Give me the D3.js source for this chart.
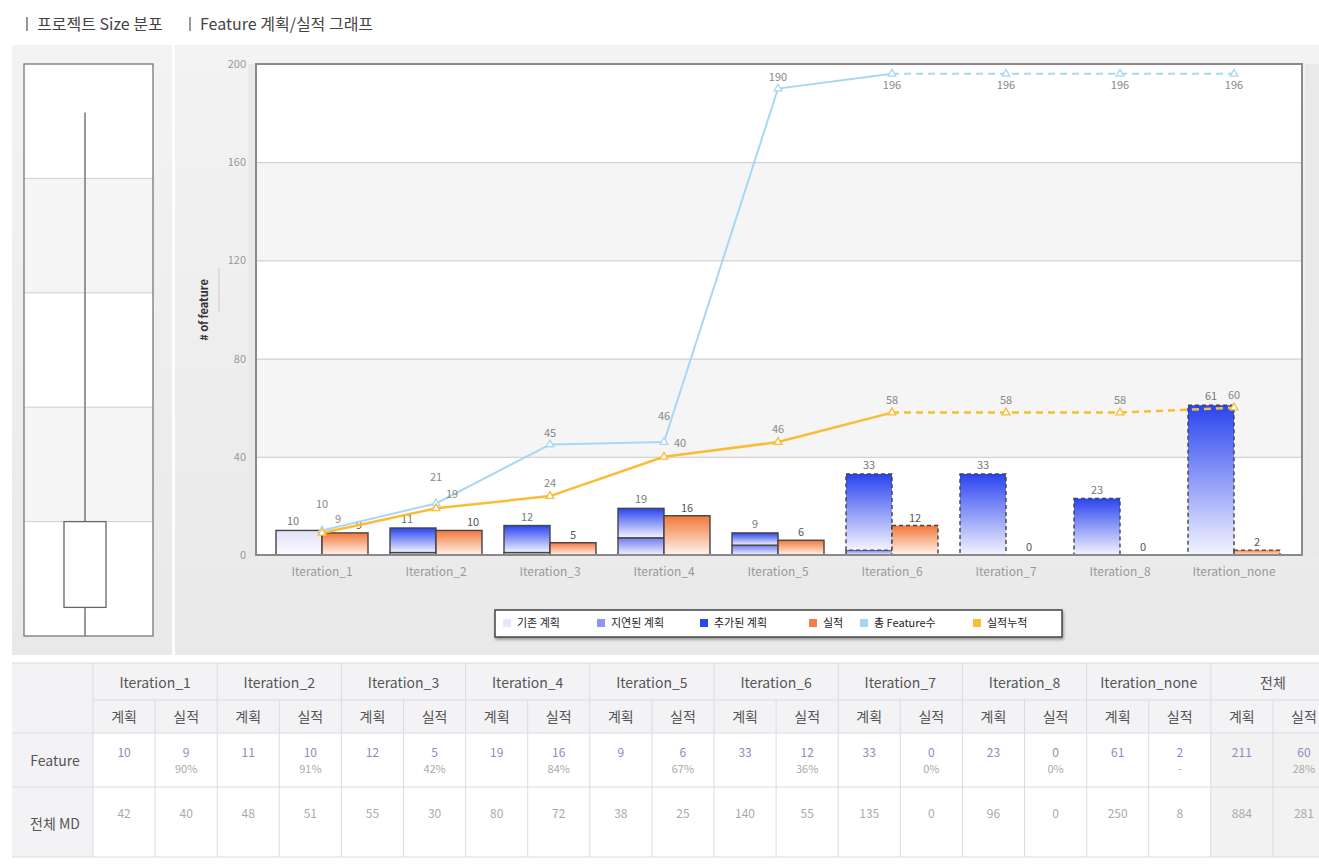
<!DOCTYPE html>
<html><head><meta charset="utf-8">
<script src="https://cdn.jsdelivr.net/npm/d3@7"></script>
<style>
body{margin:0;background:#fff;font-family:"Noto Sans CJK KR","Noto Sans",sans-serif;}
svg{display:block;}
</style></head>
<body>
<svg id="c" width="1319" height="864"></svg>
<script>
// ---------- data ----------
const categories = ["Iteration_1","Iteration_2","Iteration_3","Iteration_4","Iteration_5","Iteration_6","Iteration_7","Iteration_8","Iteration_none"];
const basePlan    = [10, 1, 1, 0, 0, 0, 0, 0, 0];   // 기존 계획
const delayedPlan = [0, 0, 0, 7, 4, 2, 0, 0, 0];    // 지연된 계획
const addedPlan   = [0, 10, 11, 12, 5, 31, 33, 23, 61]; // 추가된 계획
const actual      = [9, 10, 5, 16, 6, 12, 0, 0, 2];  // 실적
const totalFeature = [10, 21, 45, 46, 190, 196, 196, 196, 196]; // 총 Feature수
const cumActual    = [9, 19, 24, 40, 46, 58, 58, 58, 60];       // 실적누적
const futureFrom = 5; // index where dashed (planned) styling starts
const yTicks = [0, 40, 80, 120, 160, 200];

const planTotals = [10, 11, 12, 19, 9, 33, 33, 23, 61];
const actualPct  = ["90%","91%","42%","84%","67%","36%","0%","0%","-"];
const mdPlan   = [42, 48, 55, 80, 38, 140, 135, 96, 250];
const mdActual = [40, 51, 30, 72, 25, 55, 0, 0, 8];
const totalCol = {plan: 211, actual: 60, pct: "28%", mdPlan: 884, mdActual: 281};

const boxTicks = [0, 20, 40, 60, 80, 100];
const boxStats = {min: 0, q1: 5, q3: 20, max: 91.5};

const legendItems = [
  {label:"기존 계획", color:"#e6e6fb"},
  {label:"지연된 계획", color:"#8f95f2"},
  {label:"추가된 계획", color:"#2c46ef"},
  {label:"실적", color:"#f47e45"},
  {label:"총 Feature수", color:"#a9d7f3"},
  {label:"실적누적", color:"#f8bd35"}
];

const svg = d3.select("#c");
const FONT = '"Noto Sans CJK KR","Noto Sans",sans-serif';

// ---------- defs ----------
const defs = svg.append("defs");
function grad(id, top, bottom){
  const g = defs.append("linearGradient").attr("id", id).attr("x1",0).attr("y1",0).attr("x2",0).attr("y2",1);
  g.append("stop").attr("offset","0%").attr("stop-color",top);
  g.append("stop").attr("offset","100%").attr("stop-color",bottom);
}
grad("gBase", "#e2e2fa", "#fbfbff");
grad("gDelayed", "#6f7af0", "#f2f2ff");
grad("gAdded", "#2a44ef", "#f4f4ff");
grad("gActual", "#f2783b", "#fff4ee");
grad("gPanel", "#f3f3f3", "#e9e9e9");
const f = defs.append("filter").attr("id","shadow").attr("x","-5%").attr("y","-20%").attr("width","110%").attr("height","160%");
f.append("feDropShadow").attr("dx",1).attr("dy",2).attr("stdDeviation",1.5).attr("flood-color","#000").attr("flood-opacity",0.35);

// ---------- titles ----------
[{x:26, t:"프로젝트 Size 분포"},{x:189, t:"Feature 계획/실적 그래프"}].forEach(d=>{
  svg.append("rect").attr("x",d.x).attr("y",17).attr("width",2).attr("height",14).attr("fill","#999");
  svg.append("text").attr("x",d.x+11).attr("y",30).attr("font-size",16).attr("fill","#444")
    .attr("font-family",FONT).text(d.t);
});

// ---------- panels ----------
svg.append("rect").attr("x",12).attr("y",45).attr("width",160).attr("height",610).attr("fill","url(#gPanel)");
svg.append("rect").attr("x",175).attr("y",45).attr("width",1144).attr("height",610).attr("fill","url(#gPanel)");

// ---------- box plot ----------
const bx0 = 24, bx1 = 153;
const by = d3.scaleLinear().domain([0,100]).range([636,64]);
for(let i=0;i<boxTicks.length-1;i++){
  svg.append("rect").attr("x",bx0).attr("y",by(boxTicks[i+1])).attr("width",bx1-bx0)
    .attr("height",by(boxTicks[i])-by(boxTicks[i+1])).attr("fill", i%2===1 ? "#f5f5f5" : "#fff");
}
boxTicks.slice(1,-1).forEach(t=>{
  svg.append("line").attr("x1",bx0).attr("x2",bx1).attr("y1",by(t)).attr("y2",by(t)).attr("stroke","#d0d0d0");
});
svg.append("rect").attr("x",bx0).attr("y",64).attr("width",bx1-bx0).attr("height",572)
  .attr("fill","none").attr("stroke","#777").attr("stroke-width",1.3);
const bcx = 85;
svg.append("line").attr("x1",bcx).attr("x2",bcx).attr("y1",by(boxStats.max)).attr("y2",by(boxStats.min))
  .attr("stroke","#777").attr("stroke-width",1.5);
svg.append("rect").attr("x",64).attr("y",by(boxStats.q3)).attr("width",42).attr("height",by(boxStats.q1)-by(boxStats.q3))
  .attr("fill","#fff").attr("stroke","#666").attr("stroke-width",1.3);

// ---------- main chart ----------
const L = 256, R = 1302, T = 64, B = 555;
const y = d3.scaleLinear().domain([0,200]).range([B,T]);
const x = d3.scaleBand().domain(categories).range([265,1291]).paddingInner(0.193).paddingOuter(0.0965);
const bw = x.bandwidth()/2;

// strips
svg.append("rect").attr("x",248).attr("y",T).attr("width",8).attr("height",B-T).attr("fill","#e8e8e8");
svg.append("rect").attr("x",1305).attr("y",T).attr("width",14).attr("height",B-T).attr("fill","#e9e9e9");

for(let i=0;i<yTicks.length-1;i++){
  svg.append("rect").attr("x",L).attr("y",y(yTicks[i+1])).attr("width",R-L)
    .attr("height",y(yTicks[i])-y(yTicks[i+1])).attr("fill", i%2===1 ? "#f5f5f5" : "#fff");
}
const gy = svg.append("g").attr("transform",`translate(${L},0)`)
  .call(d3.axisLeft(y).tickValues(yTicks).tickSize(-(R-L)).tickPadding(10));
gy.select(".domain").remove();
gy.selectAll(".tick line").attr("stroke","#c8c8c8");
gy.selectAll(".tick text").attr("fill","#999").attr("font-size",11).attr("font-family",FONT);

svg.append("text").attr("transform","translate(208,310) rotate(-90)").attr("text-anchor","middle")
  .attr("font-size",11).attr("font-weight","bold").attr("fill","#333").attr("font-family",FONT).text("# of feature");
svg.append("line").attr("x1",219).attr("x2",219).attr("y1",268).attr("y2",312).attr("stroke","#ddd").attr("stroke-width",2);

// bars
const planStacks = categories.map((c,i)=>[
  {k:"base", v:basePlan[i], fill:"url(#gBase)"},
  {k:"delayed", v:delayedPlan[i], fill:"url(#gDelayed)"},
  {k:"added", v:addedPlan[i], fill:"url(#gAdded)"}
]);
const barG = svg.append("g");
const labelG = svg.append("g");
categories.forEach((c,i)=>{
  let acc = 0;
  const dash = i>=futureFrom ? "4,3" : null;
  planStacks[i].forEach(s=>{
    if(s.v<=0) return;
    barG.append("rect").attr("x",x(c)).attr("y",y(acc+s.v)).attr("width",bw).attr("height",y(acc)-y(acc+s.v))
      .attr("fill",s.fill).attr("stroke","#444").attr("stroke-width",1.4).attr("stroke-dasharray",dash);
    acc += s.v;
  });
  if(actual[i]>0){
    barG.append("rect").attr("x",x(c)+bw).attr("y",y(actual[i])).attr("width",bw).attr("height",y(0)-y(actual[i]))
      .attr("fill","url(#gActual)").attr("stroke","#444").attr("stroke-width",1.4).attr("stroke-dasharray",dash);
  }
  const pdx = i<2 ? -6 : 0;
  labelG.append("text").attr("x",x(c)+bw/2+pdx).attr("y",y(planTotals[i])-5).attr("text-anchor","middle")
    .attr("font-size",11).attr("fill","#777").attr("font-family",FONT).text(planTotals[i]);
  labelG.append("text").attr("x",x(c)+bw*1.5+ (i<2?14:0)).attr("y",y(actual[i])-4).attr("text-anchor","middle")
    .attr("font-size",11).attr("fill","#555").attr("font-family",FONT).text(actual[i]);
});

// plot frame
svg.append("rect").attr("x",L).attr("y",T).attr("width",R-L).attr("height",B-T)
  .attr("fill","none").attr("stroke","#8a8a8a").attr("stroke-width",2);

// lines
const px = c => x(c)+bw;
function drawLine(vals, color, w, labelPos){
  const pts = categories.map((c,i)=>[px(c), y(vals[i])]);
  const line = d3.line();
  svg.append("path").attr("d", line(pts.slice(0,futureFrom+1))).attr("fill","none")
    .attr("stroke",color).attr("stroke-width",w);
  svg.append("path").attr("d", line(pts.slice(futureFrom))).attr("fill","none")
    .attr("stroke",color).attr("stroke-width",w).attr("stroke-dasharray","7,5");
  const sym = d3.symbol().type(d3.symbolTriangle).size(26);
  pts.forEach((p,i)=>{
    svg.append("path").attr("d",sym()).attr("transform",`translate(${p[0]},${p[1]})`)
      .attr("fill","#fff").attr("stroke",color).attr("stroke-width",1.3);
  });
  pts.forEach((p,i)=>{
    const lp = labelPos(i);
    svg.append("text").attr("x",p[0]+lp[0]).attr("y",p[1]+lp[1]).attr("text-anchor","middle")
      .attr("font-size",11).attr("fill","#888").attr("font-family",FONT).text(vals[i]);
  });
}
const close = i => Math.abs(y(totalFeature[i]) - y(cumActual[i])) < 18;
drawLine(totalFeature, "#a9d7f3", 2, i => close(i) ? [0,-22] : (i>=futureFrom ? [0,15] : [0,-8]));
drawLine(cumActual, "#f8bd35", 2.5, i => close(i) ? [16,-10] : [0,-9]);

// x labels
categories.forEach(c=>{
  svg.append("text").attr("x",x(c)+bw).attr("y",576).attr("text-anchor","middle")
    .attr("font-size",12).attr("fill","#999").attr("font-family",FONT).text(c);
});

// legend
const lg = svg.append("g");
lg.append("rect").attr("x",495).attr("y",610).attr("width",567).attr("height",27).attr("fill","#fff")
  .attr("stroke","#444").attr("stroke-width",1.5).attr("filter","url(#shadow)");
const legX = [503, 597, 700, 809, 860, 973];
legendItems.forEach((d,i)=>{
  lg.append("rect").attr("x",legX[i]).attr("y",619).attr("width",8).attr("height",8).attr("fill",d.color);
  lg.append("text").attr("x",legX[i]+14).attr("y",627).attr("font-size",11).attr("fill","#222")
    .attr("font-family",FONT).text(d.label);
});

// ---------- table ----------
const tY = [663, 700, 733, 787, 857];
const colStart = 93, colW = 124.2;
const tb = svg.append("g");
tb.append("rect").attr("x",12).attr("y",tY[0]).attr("width",1307).attr("height",tY[2]-tY[0]).attr("fill","#f3f3f6");
tb.append("rect").attr("x",12).attr("y",tY[2]).attr("width",81).attr("height",tY[4]-tY[2]).attr("fill","#f3f3f6");
const totX = colStart + colW*9;
tb.append("rect").attr("x",totX).attr("y",tY[2]).attr("width",1319-totX).attr("height",tY[4]-tY[2]).attr("fill","#f2f2f2");
const gl = "#dcdce0";
[tY[0], tY[2], tY[3], tY[4]].forEach(v=>tb.append("line").attr("x1",12).attr("x2",1319).attr("y1",v).attr("y2",v).attr("stroke",gl));
tb.append("line").attr("x1",colStart).attr("x2",1319).attr("y1",tY[1]).attr("y2",tY[1]).attr("stroke",gl);
const cols = categories.concat(["전체"]);
cols.forEach((c,i)=>{
  const cx = colStart + colW*i;
  tb.append("line").attr("x1",cx).attr("x2",cx).attr("y1",tY[0]).attr("y2",tY[4]).attr("stroke",gl);
  tb.append("line").attr("x1",cx+colW/2).attr("x2",cx+colW/2).attr("y1",tY[1]).attr("y2",tY[4]).attr("stroke",gl);
  tb.append("text").attr("x",cx+colW/2).attr("y",688).attr("text-anchor","middle").attr("font-size",14)
    .attr("fill","#555").attr("font-family",FONT).text(c);
  ["계획","실적"].forEach((s,j)=>{
    tb.append("text").attr("x",cx+colW/4+j*colW/2).attr("y",722).attr("text-anchor","middle").attr("font-size",14)
      .attr("fill","#555").attr("font-family",FONT).text(s);
  });
  const isTot = i===9;
  const fp = isTot ? totalCol.plan : planTotals[i];
  const fa = isTot ? totalCol.actual : actual[i];
  const pc = isTot ? totalCol.pct : actualPct[i];
  const mp = isTot ? totalCol.mdPlan : mdPlan[i];
  const ma = isTot ? totalCol.mdActual : mdActual[i];
  tb.append("text").attr("x",cx+colW/4).attr("y",757).attr("text-anchor","middle").attr("font-size",12)
    .attr("fill","#8a8cc0").attr("font-family",FONT).text(fp);
  tb.append("text").attr("x",cx+colW*0.75).attr("y",757).attr("text-anchor","middle").attr("font-size",12)
    .attr("fill","#8a8cc0").attr("font-family",FONT).text(fa);
  tb.append("text").attr("x",cx+colW*0.75).attr("y",773).attr("text-anchor","middle").attr("font-size",11)
    .attr("fill","#aaa").attr("font-family",FONT).text(pc);
  tb.append("text").attr("x",cx+colW/4).attr("y",818).attr("text-anchor","middle").attr("font-size",12)
    .attr("fill","#aaa").attr("font-family",FONT).text(mp);
  tb.append("text").attr("x",cx+colW*0.75).attr("y",818).attr("text-anchor","middle").attr("font-size",12)
    .attr("fill","#aaa").attr("font-family",FONT).text(ma);
});
tb.append("text").attr("x",55).attr("y",766).attr("text-anchor","middle").attr("font-size",14)
  .attr("fill","#555").attr("font-family",FONT).text("Feature");
tb.append("text").attr("x",55).attr("y",829).attr("text-anchor","middle").attr("font-size",14)
  .attr("fill","#555").attr("font-family",FONT).text("전체 MD");
</script>
</body></html>
